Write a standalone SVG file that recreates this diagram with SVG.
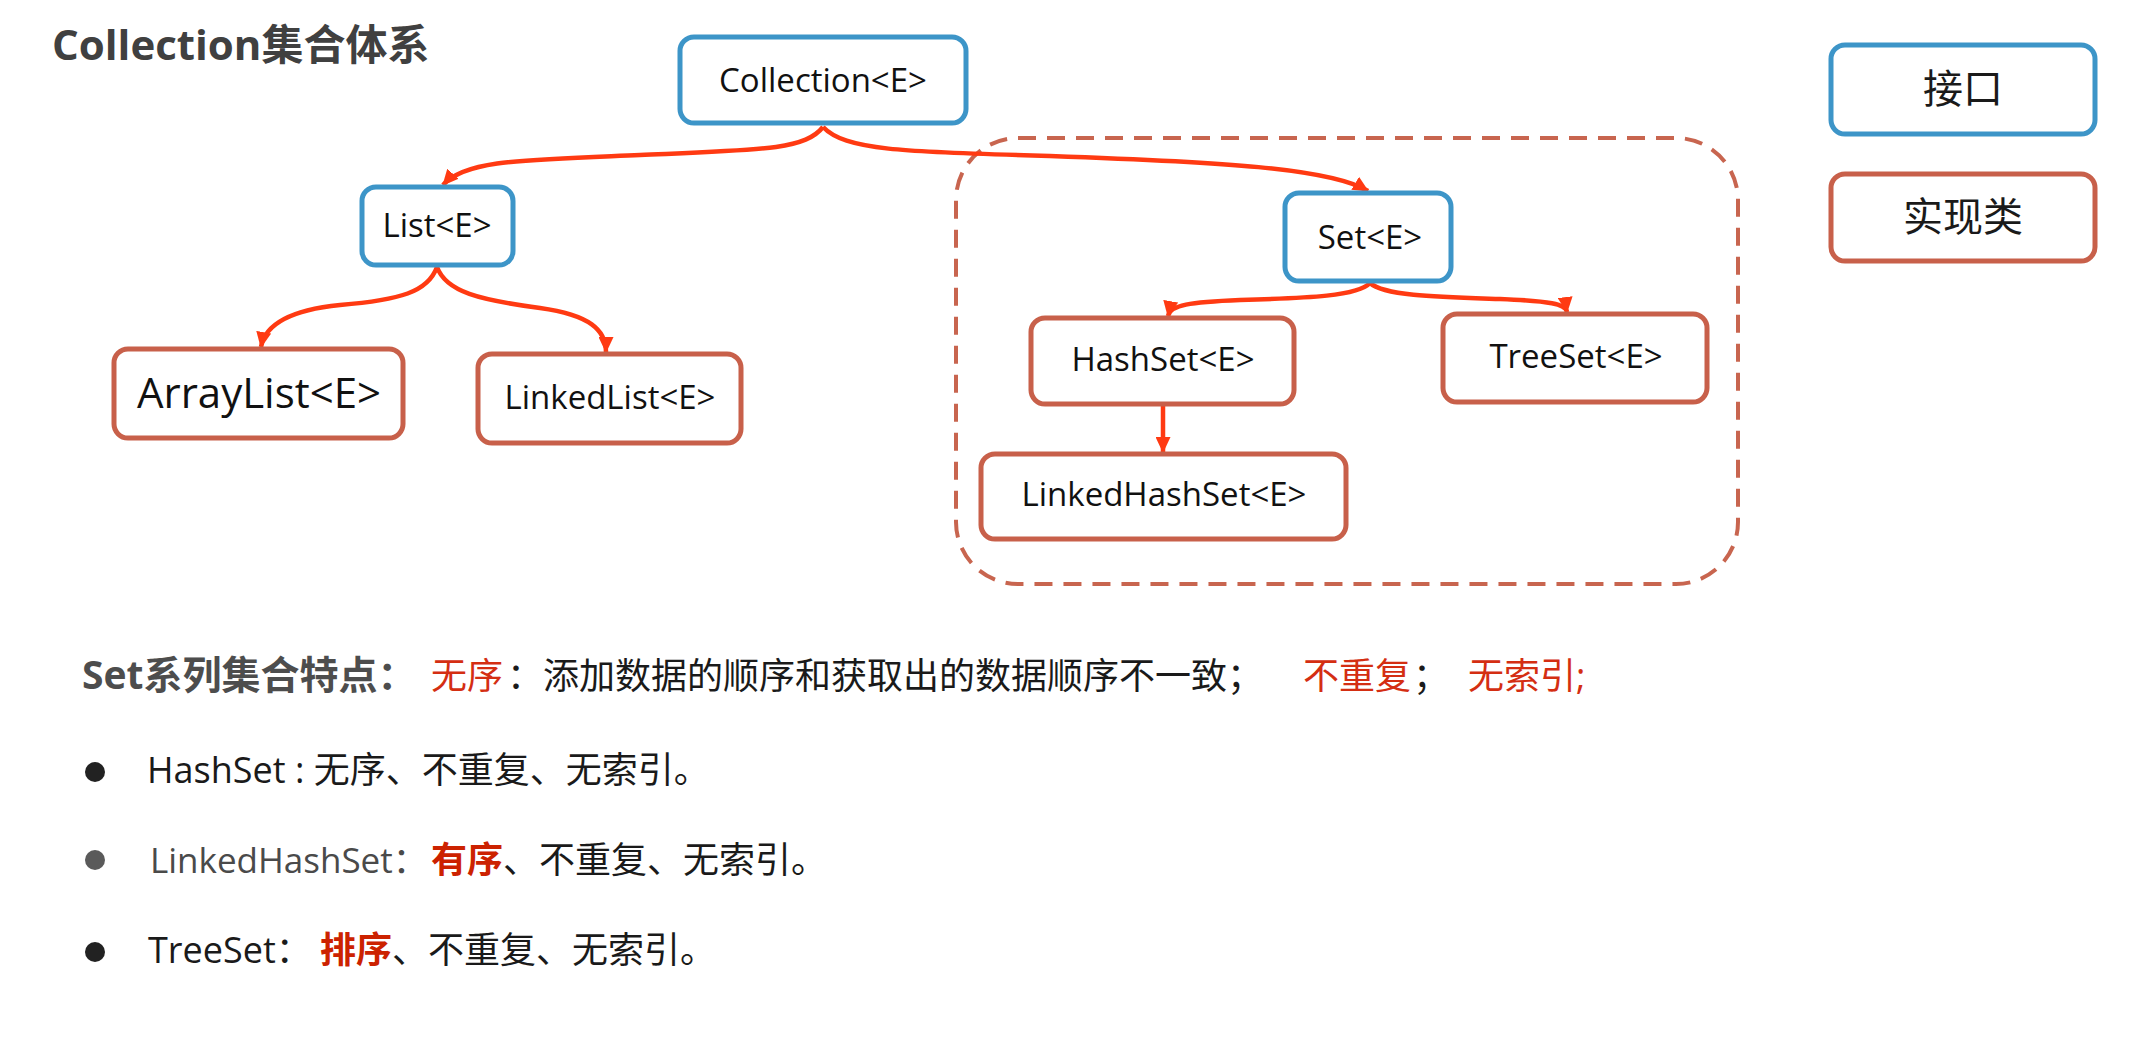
<svg xmlns="http://www.w3.org/2000/svg" width="2137" height="1057" viewBox="0 0 2137 1057">
<defs>
<style>
.iface{fill:#fff;stroke:#3d95c8;stroke-width:5}
.impl{fill:#fff;stroke:#c8604a;stroke-width:5}
.lbl{font-family:"Open Sans","Noto Sans CJK SC",sans-serif;font-size:33px;fill:#111;text-anchor:middle}
.big{font-size:42px}
.leg{font-family:"Noto Sans CJK SC",sans-serif;font-size:40px;fill:#1a1a1a;text-anchor:middle}
.conn{fill:none;stroke:#ff3a12;stroke-width:4.5;marker-end:url(#arr)}
.body{font-family:"Open Sans","Noto Sans CJK SC",sans-serif;font-size:36px;fill:#1a1a1a}
.head{font-size:39px;font-weight:bold;fill:#4d4d4d}
.gray{fill:#4a4a4a;font-size:35px}
.red{fill:#d42e12}
.bred{fill:#cc2200;font-weight:bold}
</style>
<marker id="arr" markerUnits="userSpaceOnUse" markerWidth="17" markerHeight="15" refX="15" refY="7.5" orient="auto">
<path d="M0,0 L16,7.5 L0,15 z" fill="#ff3a12"/>
</marker>
</defs>
<rect width="2137" height="1057" fill="#fff"/>

<text id="title" x="52" y="60" font-family="'Open Sans','Noto Sans CJK SC',sans-serif" font-size="42" font-weight="bold" fill="#404040">Collection集合体系</text>

<rect id="set-group" x="956" y="138" width="782" height="446" rx="62" fill="none" stroke="#c8654f" stroke-width="4" stroke-dasharray="18 11"/>

<g id="connectors">
<path class="conn" d="M823,127 C805,150 760,150 640,155 C520,160 465,160 443,185"/>
<path class="conn" d="M823,127 C845,150 900,152 1050,156 C1220,162 1330,168 1368,191"/>
<path class="conn" d="M437,267 C428,292 400,300 340,305 C290,310 265,325 261,347"/>
<path class="conn" d="M437,267 C446,292 480,300 540,308 C590,315 606,330 606,352"/>
<path class="conn" d="M1370,283 C1358,296 1310,298 1240,300 C1190,302 1170,305 1168,316"/>
<path class="conn" d="M1370,283 C1384,296 1440,297 1500,299 C1550,301 1566,304 1567,312"/>
<path class="conn" d="M1163,406 L1163,452"/>
</g>

<g id="node-collection">
<rect class="iface" x="680" y="37" width="286" height="86" rx="14"/>
<text class="lbl" x="823" y="92">Collection&lt;E&gt;</text>
</g>
<g id="node-list">
<rect class="iface" x="362" y="187" width="151" height="78" rx="14"/>
<text class="lbl" x="437" y="237">List&lt;E&gt;</text>
</g>
<g id="node-arraylist">
<rect class="impl" x="114" y="349" width="289" height="89" rx="14"/>
<text class="lbl big" x="259" y="408">ArrayList&lt;E&gt;</text>
</g>
<g id="node-linkedlist">
<rect class="impl" x="478" y="354" width="263" height="89" rx="14"/>
<text class="lbl" x="610" y="409">LinkedList&lt;E&gt;</text>
</g>
<g id="node-set">
<rect class="iface" x="1285" y="193" width="166" height="88" rx="14"/>
<text class="lbl" x="1370" y="249">Set&lt;E&gt;</text>
</g>
<g id="node-hashset">
<rect class="impl" x="1031" y="318" width="263" height="86" rx="14"/>
<text class="lbl" x="1163" y="371">HashSet&lt;E&gt;</text>
</g>
<g id="node-treeset">
<rect class="impl" x="1443" y="314" width="264" height="88" rx="14"/>
<text class="lbl" x="1576" y="368">TreeSet&lt;E&gt;</text>
</g>
<g id="node-linkedhashset">
<rect class="impl" x="981" y="454" width="365" height="85" rx="14"/>
<text class="lbl" x="1164" y="506">LinkedHashSet&lt;E&gt;</text>
</g>
<g id="legend-interface">
<rect class="iface" x="1831" y="45" width="264" height="89" rx="14"/>
<text class="leg" x="1963" y="103">接口</text>
</g>
<g id="legend-impl">
<rect class="impl" x="1831" y="174" width="264" height="87" rx="14"/>
<text class="leg" x="1963" y="231">实现类</text>
</g>

<g id="notes">
<text class="body" y="689"><tspan x="82" class="head">Set系列集合特点：</tspan><tspan x="431" class="red">无序</tspan><tspan x="507">：添加数据的顺序和获取出的数据顺序不一致；</tspan><tspan x="1303" class="red">不重复</tspan><tspan x="1413">；</tspan><tspan x="1468" class="red">无索引;</tspan></text>
<circle cx="95" cy="772" r="10" fill="#222"/>
<text class="body" x="147" y="783">HashSet : 无序、不重复、无索引。</text>
<circle cx="95" cy="860" r="10" fill="#5a5a5a"/>
<text class="body" y="873"><tspan x="150" class="gray">LinkedHashSet：</tspan><tspan x="431" class="bred">有序</tspan><tspan x="503">、不重复、无索引。</tspan></text>
<circle cx="95" cy="952" r="10" fill="#222"/>
<text class="body" y="963"><tspan x="148">TreeSet：</tspan><tspan x="320" class="bred">排序</tspan><tspan x="392">、不重复、无索引。</tspan></text>
</g>
</svg>
